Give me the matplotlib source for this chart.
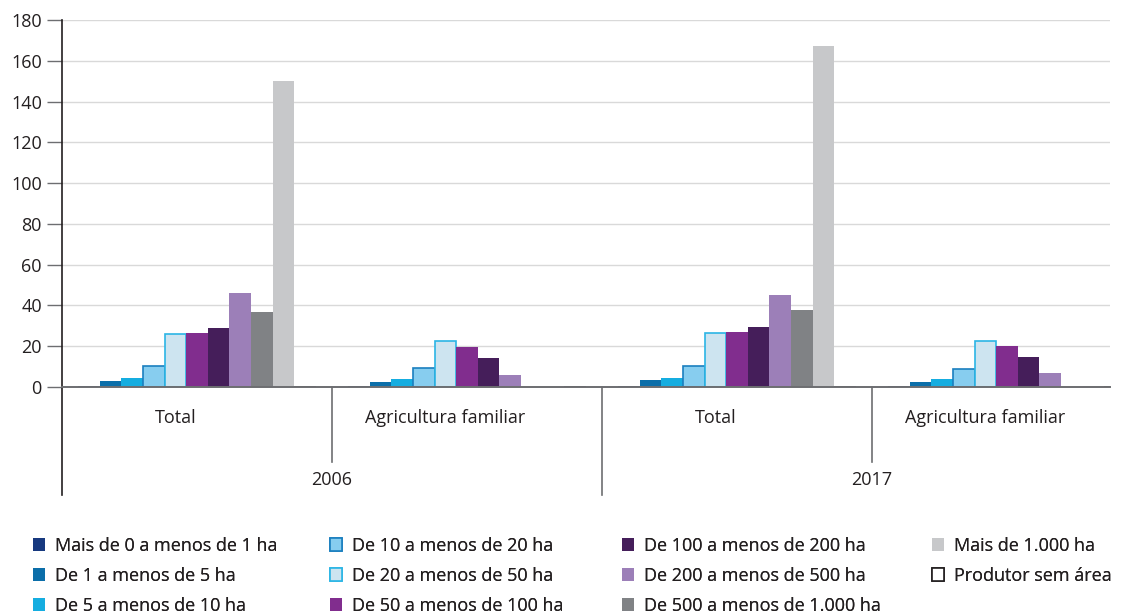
import matplotlib
matplotlib.use("Agg")
import matplotlib.pyplot as plt
import numpy as np

plt.rcParams['font.family'] = ['Open Sans', 'DejaVu Sans']
plt.rcParams['font.size'] = 13

# grupos do eixo x
anos = ['2006', '2017']
grupos = ['Total', 'Agricultura familiar', 'Total', 'Agricultura familiar']

# classes de área (ordem das barras)
classes = [
    'Mais de 0 a menos de 1 ha',
    'De 1 a menos de 5 ha',
    'De 5 a menos de 10 ha',
    'De 10 a menos de 20 ha',
    'De 20 a menos de 50 ha',
    'De 50 a menos de 100 ha',
    'De 100 a menos de 200 ha',
    'De 200 a menos de 500 ha',
    'De 500 a menos de 1.000 ha',
    'Mais de 1.000 ha',
    'Produtor sem área',
]

# valores por classe: [2006 Total, 2006 AF, 2017 Total, 2017 AF]
v_0_1 = [0.3, 0.3, 0.3, 0.3]
v_1_5 = [2.9, 2.6, 3.3, 2.5]
v_5_10 = [4.3, 3.9, 4.4, 3.8]
v_10_20 = [10.2, 9.3, 10.5, 8.9]
v_20_50 = [26.2, 22.6, 26.7, 22.6]
v_50_100 = [26.3, 19.7, 26.8, 20.2]
v_100_200 = [29.0, 14.4, 29.2, 14.9]
v_200_500 = [46.2, 6.1, 44.9, 6.7]
v_500_1000 = [37.0, 0.1, 38.0, 0.1]
v_1000 = [150.0, 0.2, 167.4, 0.3]
v_sem_area = [0.0, 0.0, 0.0, 0.0]

valores = [v_0_1, v_1_5, v_5_10, v_10_20, v_20_50, v_50_100,
           v_100_200, v_200_500, v_500_1000, v_1000, v_sem_area]

cores = ['#17397f', '#0b6ea9', '#15ade0', '#87cdef', '#cde4f0', '#812d8e',
         '#451e5a', '#9c7fb8', '#808285', '#c7c8ca', '#ffffff']
bordas = [None, None, None, '#1a7fbf', '#2bb5e5', None,
          None, None, None, None, '#231f20']

W, H = 1129, 614
fig = plt.figure(figsize=(W / 100, H / 100), dpi=100)
x_esq, x_dir, y_top, y_base = 62, 1110, 20, 387
ax = fig.add_axes([x_esq / W, 1 - y_base / H, (x_dir - x_esq) / W, (y_base - y_top) / H])

n = len(classes)
larg = 0.88 / n
x = np.arange(len(grupos))
barras = []
for k in range(n):
    pos = x + (k - (n - 1) / 2) * larg
    if bordas[k]:
        b = ax.bar(pos, valores[k], larg, color=cores[k], edgecolor=bordas[k],
                   linewidth=1.2, label=classes[k], zorder=3)
    else:
        b = ax.bar(pos, valores[k], larg, color=cores[k], linewidth=0,
                   label=classes[k], zorder=3)
    barras.append(b)

unit_px = 270
ax.set_xlim(-0.5, -0.5 + (x_dir - x_esq) / unit_px)
ax.set_ylim(0, 180)
ax.set_yticks(np.arange(0, 181, 20))
ax.set_xticks([])
ax.yaxis.grid(True, color='#d9d9d9', linewidth=1, zorder=0)
ax.set_axisbelow(True)
ax.tick_params(axis='y', length=10.5, width=1, color='#6d6e71', pad=4,
               labelcolor='#231f20', labelsize=13)

for s in ['top', 'right']:
    ax.spines[s].set_visible(False)
ax.spines['left'].set_color('#231f20')
ax.spines['left'].set_linewidth(1.2)
ax.spines['bottom'].set_color('#6d6e71')
ax.spines['bottom'].set_linewidth(1.4)
ax.spines['bottom'].set_zorder(4)

# rótulos de categoria e de ano abaixo do eixo
altura = y_base - y_top
y_cat = -(418 - y_base) / altura
y_ano = -(480 - y_base) / altura
y_div_curta = -(462 - y_base) / altura
y_div_longa = -(495 - y_base) / altura
trans = ax.get_xaxis_transform()

for i, g in enumerate(grupos):
    ax.text(i - 0.08, y_cat, g, transform=trans, ha='center', va='center',
            fontsize=13, color='#231f20')
for j, ano in enumerate(anos):
    ax.text(2 * j + 0.5, y_ano, ano, transform=trans, ha='center', va='center',
            fontsize=13, color='#231f20')

for xd in [-0.5, 0.5, 1.5, 2.5]:
    y_fim = y_div_longa if xd in (-0.5, 1.5) else y_div_curta
    cor = '#231f20' if xd == -0.5 else '#6d6e71'
    ax.plot([xd, xd], [0, y_fim], transform=trans, color=cor, linewidth=1.2,
            clip_on=False)

# legenda em 4 colunas
colunas = [[0, 1, 2], [3, 4, 5], [6, 7, 8], [9, 10]]
x_col = [33, 330, 622, 932]
for c, idx in enumerate(colunas):
    leg = fig.legend([barras[i] for i in idx], [classes[i] for i in idx],
                     loc='upper left', bbox_to_anchor=(x_col[c] / W, 1 - 537 / H),
                     frameon=False, borderpad=0, borderaxespad=0,
                     handlelength=0.68, handleheight=0.68, handletextpad=0.55,
                     labelspacing=0.66, fontsize=13, labelcolor='#231f20')
    fig.add_artist(leg)

fig.savefig('out.png', dpi=100)
